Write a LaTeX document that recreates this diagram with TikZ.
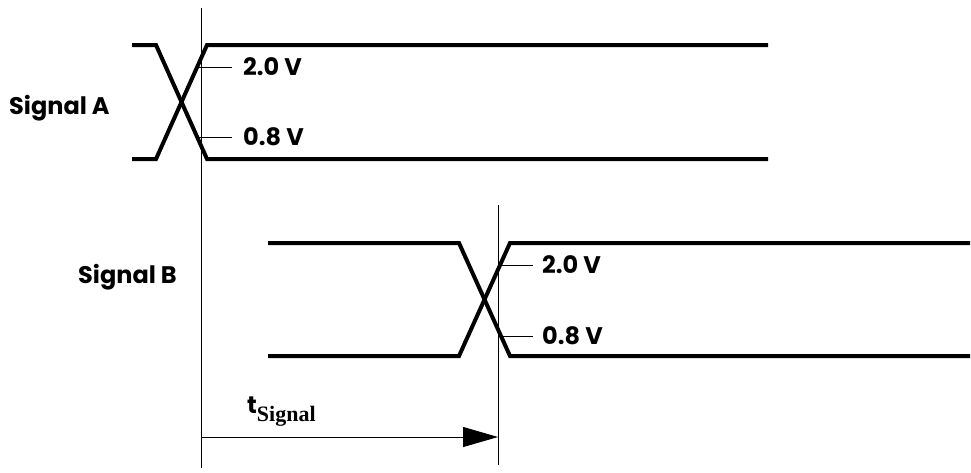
\documentclass[tikz,border=0pt]{standalone}
\usepackage{fontspec}
\setmainfont{Poppins}
\newfontfamily\timesb{Liberation Serif}
\usetikzlibrary{arrows.meta}
\begin{document}
\begin{tikzpicture}[x=1pt,y=-1pt,
  sig/.style={line width=4pt,line join=miter},
  thin/.style={line width=1pt},
  lab/.style={font=\fontsize{24}{27}\selectfont\bfseries,inner sep=0pt},
  vlab/.style={font=\fontsize{24}{27}\selectfont\bfseries,inner sep=0pt,anchor=west}]
\useasboundingbox (0,0) rectangle (971,472);
% Signal A
\draw[sig] (132,45) -- (156,45) -- (207,159) -- (768,159);
\draw[sig] (132,159) -- (156,159) -- (207,45) -- (768,45);
% Signal B
\draw[sig] (268,243) -- (459,243) -- (510,356) -- (970,356);
\draw[sig] (268,356) -- (459,356) -- (510,243) -- (970,243);
% vertical markers
\coordinate (va1) at (201,8);
\coordinate (va2) at (201,468);
\coordinate (vb1) at (498,205);
\coordinate (vb2) at (498,465);
\draw[thin] (va1) -- (va2);
\draw[thin] (vb1) -- (vb2);
% labels
\node[lab,anchor=west] (sa) at (9,108) {Signal A};
\node[lab,anchor=west] (sb) at (78,277) {Signal B};
\node[vlab] (a20) at (243,67) {2.0 V};
\node[vlab] (a08) at (243,137) {0.8 V};
\node[vlab] (b20) at (542,265) {2.0 V};
\node[vlab] (b08) at (542,336) {0.8 V};
\coordinate (ta20) at (197,67);
\coordinate (ta08) at (197,137);
\coordinate (tb20) at (502,265);
\coordinate (tb08) at (502,336);
\draw[thin] (ta20) -- (232,67);
\draw[thin] (ta08) -- (232,137);
\draw[thin] (tb20) -- (533,265);
\draw[thin] (tb08) -- (533,336);
% timing arrow
\coordinate (ts) at (201,437);
\coordinate (te) at (498,437);
\draw[thin,-{Triangle[length=35pt,width=20pt]}] (ts) -- (te);
\node[inner sep=0pt,anchor=base west] (tl) at (247,413) {\fontsize{24}{26}\selectfont\bfseries t\raisebox{-8pt}{\timesb\fontsize{22}{24}\selectfont\bfseries Signal}};
\end{tikzpicture}
\end{document}
